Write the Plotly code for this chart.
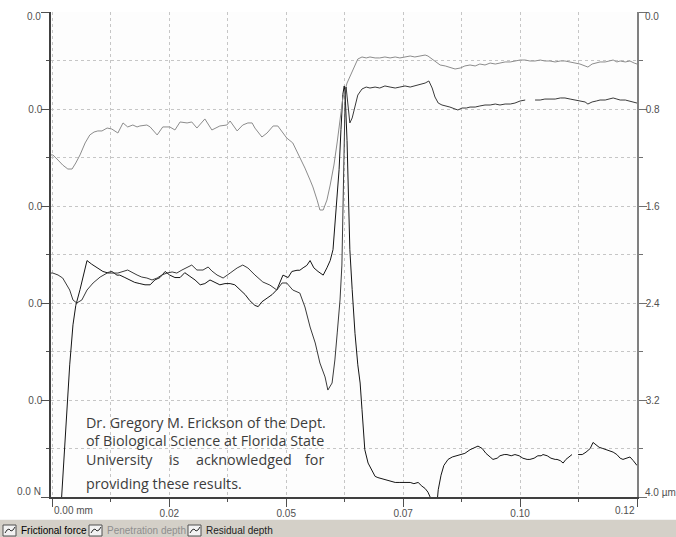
import plotly.graph_objects as go

# ---------------- data ----------------
# Frictional force (N) vs distance (mm)
fric_x = [0.0018, 0.0022, 0.0027, 0.0033, 0.0037, 0.0044, 0.0050, 0.0059, 0.0067, 0.0074,
          0.0084, 0.0095, 0.0108, 0.0117, 0.0127, 0.0138, 0.0144, 0.0155, 0.0166, 0.0176,
          0.0187, 0.0198, 0.0209, 0.0219, 0.0230, 0.0241, 0.0251, 0.0262, 0.0273, 0.0283,
          0.0294, 0.0305, 0.0316, 0.0326, 0.0337, 0.0348, 0.0358, 0.0369, 0.0380, 0.0390,
          0.0401, 0.0412, 0.0422, 0.0433, 0.0440, 0.0448, 0.0459, 0.0470, 0.0480, 0.0493,
          0.0504, 0.0512, 0.0523, 0.0529, 0.0536, 0.0544, 0.0551, 0.0559, 0.0568, 0.0579,
          0.0587, 0.0594, 0.0600, 0.0606, 0.0613, 0.0617, 0.0621, 0.0624, 0.0626, 0.0630,
          0.0634, 0.0636, 0.0641, 0.0647, 0.0653, 0.0658, 0.0662, 0.0668, 0.0675, 0.0683,
          0.0690, 0.0696, 0.0705, 0.0713, 0.0722, 0.0733, 0.0743, 0.0754, 0.0765, 0.0773,
          0.0782, 0.0790, 0.0797, 0.0803, 0.0810, 0.0814, 0.0820, 0.0825, 0.0831, 0.0837,
          0.0846, 0.0855, 0.0863, 0.0872, 0.0882, 0.0893, 0.0904, 0.0910, 0.0919, 0.0927,
          0.0936, 0.0942, 0.0951, 0.0957, 0.0966, 0.0972, 0.0981, 0.0989, 0.0998, 0.1006,
          0.1015, 0.1021, 0.1030, 0.1038, 0.1045, 0.1049, 0.1058, 0.1066, 0.1075, 0.1079,
          0.1086, 0.1092, 0.1098, 0.1105, 0.1111, None, 0.1124, 0.1133, 0.1141, 0.1150,
          0.1156, 0.1163, 0.1169, 0.1177, 0.1186, 0.1192, 0.1199, 0.1207, 0.1214, 0.1220,
          0.1229, 0.1235, 0.1242, 0.1250]
fric_n = [-0.0011, 0.0014, 0.0041, 0.0080, 0.0109, 0.0142, 0.0158, 0.0171, 0.0185, 0.0195,
          0.0192, 0.0189, 0.0186, 0.0185, 0.0186, 0.0183, 0.0183, 0.0181, 0.0179, 0.0177,
          0.0176, 0.0175, 0.0175, 0.0179, 0.0181, 0.0186, 0.0183, 0.0181, 0.0181, 0.0185,
          0.0182, 0.0179, 0.0175, 0.0176, 0.0179, 0.0177, 0.0175, 0.0176, 0.0176, 0.0175,
          0.0171, 0.0167, 0.0162, 0.0158, 0.0157, 0.0161, 0.0164, 0.0167, 0.0171, 0.0183,
          0.0181, 0.0186, 0.0187, 0.0187, 0.0189, 0.0191, 0.0195, 0.0189, 0.0186, 0.0183,
          0.0189, 0.0195, 0.0204, 0.0233, 0.0270, 0.0303, 0.0332, 0.0339, 0.0332, 0.0294,
          0.0245, 0.0204, 0.0171, 0.0135, 0.0109, 0.0094, 0.0072, 0.0039, 0.0028, 0.0022,
          0.0017, 0.0016, 0.0015, 0.0014, 0.0013, 0.0012, 0.0012, 0.0012, 0.0012, 0.0011,
          0.0012, 0.0009, 0.0007, 0.0004, -0.0002, -0.0015, -0.0015, 0.0006, 0.0018, 0.0026,
          0.0031, 0.0033, 0.0034, 0.0035, 0.0036, 0.0039, 0.0041, 0.0042, 0.0040, 0.0036,
          0.0033, 0.0031, 0.0032, 0.0034, 0.0035, 0.0035, 0.0034, 0.0035, 0.0034, 0.0032,
          0.0031, 0.0031, 0.0032, 0.0034, 0.0034, 0.0035, 0.0034, 0.0032, 0.0031, 0.0031,
          0.0030, 0.0028, 0.0031, 0.0033, 0.0035, None, 0.0035, 0.0035, 0.0037, 0.0040,
          0.0045, 0.0043, 0.0041, 0.0040, 0.0039, 0.0038, 0.0037, 0.0035, 0.0032, 0.0031,
          0.0032, 0.0033, 0.0030, 0.0026]

# Penetration depth (um) vs distance (mm)
pen_x = [-0.0003, 0.0001, 0.0012, 0.0022, 0.0033, 0.0042, 0.0050, 0.0059, 0.0070, 0.0080,
         0.0089, 0.0097, 0.0106, 0.0117, 0.0127, 0.0140, 0.0151, 0.0161, 0.0172, 0.0181,
         0.0187, 0.0202, 0.0209, 0.0224, 0.0236, 0.0251, 0.0262, 0.0273, 0.0288, 0.0298,
         0.0309, 0.0326, 0.0341, 0.0358, 0.0373, 0.0380, 0.0395, 0.0407, 0.0418, 0.0427,
         0.0433, 0.0448, 0.0459, 0.0472, 0.0482, 0.0501, 0.0514, 0.0529, 0.0540, 0.0551,
         0.0557, 0.0566, 0.0572, 0.0579, 0.0587, 0.0594, 0.0602, 0.0609, 0.0615, 0.0621,
         0.0630, 0.0636, 0.0645, 0.0653, 0.0662, 0.0671, 0.0679, 0.0690, 0.0700, 0.0711,
         0.0722, 0.0733, 0.0743, 0.0754, 0.0765, 0.0775, 0.0786, 0.0797, 0.0803, 0.0812,
         0.0820, 0.0829, 0.0840, 0.0850, 0.0861, 0.0872, 0.0882, 0.0893, 0.0904, 0.0914,
         0.0925, 0.0936, 0.0947, 0.0957, 0.0968, 0.0979, 0.0989, 0.1000, 0.1011, 0.1021,
         0.1032, 0.1043, 0.1053, 0.1064, 0.1075, 0.1086, 0.1096, 0.1107, 0.1118, 0.1128,
         0.1139, 0.1145, 0.1154, 0.1163, 0.1171, 0.1182, 0.1192, 0.1199, 0.1207, 0.1214,
         0.1225, 0.1235, 0.1244, 0.1250]
pen_um = [1.179, 1.179, 1.221, 1.262, 1.295, 1.295, 1.245, 1.179, 1.080, 1.014,
          0.990, 0.981, 0.981, 0.957, 0.965, 0.998, 0.915, 0.948, 0.932, 0.948,
          0.940, 0.932, 0.948, 1.014, 0.948, 0.948, 0.973, 0.907, 0.915, 0.907,
          0.957, 0.882, 0.973, 0.940, 0.932, 0.899, 0.981, 0.932, 0.915, 0.915,
          0.957, 1.031, 0.998, 0.940, 0.940, 1.039, 1.080, 1.196, 1.287, 1.386,
          1.443, 1.551, 1.633, 1.633, 1.551, 1.427, 1.262, 1.072, 0.891, 0.709,
          0.586, 0.536, 0.462, 0.388, 0.371, 0.379, 0.371, 0.379, 0.379, 0.371,
          0.379, 0.371, 0.379, 0.371, 0.363, 0.371, 0.363, 0.355, 0.363, 0.388,
          0.412, 0.437, 0.445, 0.454, 0.470, 0.462, 0.445, 0.437, 0.445, 0.429,
          0.437, 0.421, 0.429, 0.421, 0.412, 0.412, 0.404, 0.396, 0.396, 0.404,
          0.404, 0.396, 0.404, 0.404, 0.412, 0.404, 0.404, 0.412, 0.421, 0.429,
          0.445, 0.454, 0.429, 0.421, 0.412, 0.412, 0.404, 0.396, 0.412, 0.404,
          0.412, 0.404, 0.421, 0.429]

# Residual depth (um) vs distance (mm)
res_x = [-0.0003, 0.0001, 0.0012, 0.0022, 0.0037, 0.0044, 0.0052, 0.0063, 0.0074, 0.0087,
         0.0102, 0.0117, 0.0123, 0.0140, 0.0161, 0.0172, 0.0181, 0.0191, 0.0202, 0.0213,
         0.0224, 0.0234, 0.0245, 0.0256, 0.0266, 0.0277, 0.0288, 0.0298, 0.0309, 0.0322,
         0.0333, 0.0341, 0.0352, 0.0365, 0.0380, 0.0395, 0.0407, 0.0418, 0.0433, 0.0450,
         0.0465, 0.0480, 0.0491, 0.0501, 0.0514, 0.0529, 0.0540, 0.0551, 0.0562, 0.0572,
         0.0583, 0.0589, 0.0598, 0.0604, 0.0609, 0.0615, 0.0619, 0.0621, 0.0624, 0.0626,
         0.0628, 0.0632, 0.0636, 0.0641, 0.0647, 0.0653, 0.0662, 0.0671, 0.0679, 0.0690,
         0.0700, 0.0711, 0.0722, 0.0733, 0.0743, 0.0754, 0.0765, 0.0775, 0.0786, 0.0797,
         0.0805, 0.0812, 0.0818, 0.0825, 0.0833, 0.0842, 0.0850, 0.0861, 0.0867, 0.0876,
         0.0885, 0.0893, 0.0904, 0.0914, 0.0925, 0.0936, 0.0947, 0.0957, 0.0968, 0.0979,
         0.0989, 0.1000, 0.1011, None, 0.1032, 0.1043, 0.1053, 0.1064, 0.1075, 0.1086,
         0.1096, 0.1107, 0.1118, 0.1128, 0.1139, 0.1145, 0.1154, 0.1163, 0.1171, 0.1182,
         0.1192, 0.1199, 0.1207, 0.1214, 0.1225, 0.1235, 0.1244, 0.1250]
res_um = [2.153, 2.153, 2.169, 2.194, 2.293, 2.375, 2.400, 2.375, 2.293, 2.235,
          2.186, 2.153, 2.153, 2.153, 2.128, 2.153, 2.169, 2.186, 2.194, 2.210,
          2.194, 2.169, 2.153, 2.144, 2.153, 2.128, 2.103, 2.087, 2.128, 2.128,
          2.103, 2.136, 2.169, 2.194, 2.153, 2.111, 2.087, 2.111, 2.169, 2.227,
          2.252, 2.293, 2.235, 2.235, 2.293, 2.318, 2.433, 2.598, 2.730, 2.895,
          3.010, 3.118, 3.060, 2.870, 2.647, 2.375, 2.087, 1.715, 1.138, 0.685,
          0.619, 0.767, 0.915, 0.874, 0.767, 0.685, 0.635, 0.619, 0.627, 0.619,
          0.627, 0.610, 0.619, 0.627, 0.619, 0.610, 0.619, 0.610, 0.602, 0.586,
          0.569, 0.627, 0.701, 0.751, 0.767, 0.775, 0.784, 0.800, 0.808, 0.792,
          0.792, 0.784, 0.784, 0.775, 0.767, 0.767, 0.759, 0.767, 0.759, 0.759,
          0.751, 0.734, 0.726, None, 0.726, 0.726, 0.718, 0.718, 0.718, 0.709,
          0.709, 0.718, 0.726, 0.734, 0.742, 0.759, 0.742, 0.734, 0.726, 0.726,
          0.718, 0.709, 0.718, 0.726, 0.726, 0.734, 0.742, 0.751]

# axis ticks
x_major = [0.0, 0.025, 0.05, 0.075, 0.1, 0.125]
x_major_text = ["", "0.02", "0.05", "0.07", "0.10", ""]
x_minor = [0.0125, 0.0375, 0.0625, 0.0875, 0.1125]
f_major = [0.0, 0.008, 0.016, 0.024, 0.032, 0.040]
f_major_text = ["", "0.0", "0.0", "0.0", "0.0", ""]
f_minor = [0.004, 0.012, 0.020, 0.028, 0.036]
d_major = [0.0, 0.8, 1.6, 2.4, 3.2, 4.0]
d_major_text = ["", "0.8", "1.6", "2.4", "3.2", ""]
d_minor = [0.4, 1.2, 2.0, 2.8, 3.6]

ack_lines = ["Dr. Gregory M. Erickson of the Dept.",
             "of Biological Science at Florida State"]
ack_line3_words = ["University", "is", "acknowledged", "for"]
ack_line4 = "providing these results."
legend_names = ["Frictional force", "Penetration depth", "Residual depth"]

# ---------------- layout geometry (pixels) ----------------
W, H = 676, 537
L, R, T, B = 51, 637, 12, 497


def PX(px):
    return (px - L) / (R - L)


def PY(py):
    return (B - py) / (B - T)


GRID = "#c6c6c6"
TICKC = "#505050"
TFONT = dict(family="Liberation Sans, Arial, sans-serif", size=10, color="#505050")

fig = go.Figure()
fig.add_trace(go.Scatter(x=fric_x, y=fric_n, mode="lines", name=legend_names[0],
                         line=dict(color="#151515", width=1), yaxis="y", connectgaps=False))
fig.add_trace(go.Scatter(x=pen_x, y=pen_um, mode="lines", name=legend_names[1],
                         line=dict(color="#8c8c8c", width=1), yaxis="y2", connectgaps=False))
fig.add_trace(go.Scatter(x=res_x, y=res_um, mode="lines", name=legend_names[2],
                         line=dict(color="#3a3a3a", width=1), yaxis="y2", connectgaps=False))

fig.update_layout(
    width=W, height=H, autosize=False,
    margin=dict(l=L, r=W - R, t=T, b=H - B, pad=0),
    paper_bgcolor="#ffffff", plot_bgcolor="#fdfdfd",
    showlegend=False,
    xaxis=dict(range=[-0.0003, 0.125], tickmode="array", tickvals=x_major, ticktext=x_major_text,
               ticks="outside", ticklen=8, tickwidth=1, tickcolor=TICKC, ticklabelstandoff=-2,
               showline=True, linecolor="#404040", linewidth=1.5, zeroline=False,
               showgrid=True, gridcolor=GRID, griddash="3px,3px", gridwidth=1,
               tickfont=TFONT,
               minor=dict(tickmode="array", tickvals=x_minor, ticks="outside", ticklen=3,
                          tickcolor=TICKC, showgrid=True, gridcolor=GRID, griddash="3px,3px")),
    yaxis=dict(range=[0, 0.040], tickmode="array", tickvals=f_major, ticktext=f_major_text,
               ticks="outside", ticklen=8, tickwidth=1, tickcolor=TICKC, ticklabelstandoff=-3,
               showline=True, linecolor="#404040", linewidth=1.5, zeroline=False,
               showgrid=True, gridcolor=GRID, griddash="3px,3px", gridwidth=1,
               tickfont=TFONT,
               minor=dict(tickmode="array", tickvals=f_minor, ticks="outside", ticklen=3,
                          tickcolor=TICKC, showgrid=True, gridcolor=GRID, griddash="3px,3px")),
    yaxis2=dict(range=[4.0, 0.0], overlaying="y", side="right", anchor="x",
                tickmode="array", tickvals=d_major, ticktext=d_major_text,
                ticks="outside", ticklen=8, tickwidth=1, tickcolor="#707070",
                ticklabelstandoff=-3,
                showline=True, linecolor="#808080", linewidth=1.5, zeroline=False,
                showgrid=False, tickfont=TFONT,
                minor=dict(tickmode="array", tickvals=d_minor, ticks="outside", ticklen=4,
                           tickcolor="#707070", showgrid=False)),
)

ann = []
# endpoint tick labels
ann.append(dict(xref="x", yref="paper", x=0.0, y=PY(511), text="0.00 mm", xanchor="left",
                yanchor="middle", showarrow=False, font=TFONT))
ann.append(dict(xref="x", yref="paper", x=0.125, y=PY(511), text="0.12", xanchor="right",
                yanchor="middle", showarrow=False, font=TFONT))
ann.append(dict(xref="paper", yref="paper", x=PX(43), y=PY(17), text="0.0", xanchor="right",
                yanchor="middle", showarrow=False, font=TFONT))
ann.append(dict(xref="paper", yref="paper", x=PX(43), y=PY(491), text="0.0 N", xanchor="right",
                yanchor="middle", showarrow=False, font=TFONT))
ann.append(dict(xref="paper", yref="paper", x=PX(643), y=PY(17), text="0.0", xanchor="left",
                yanchor="middle", showarrow=False, font=TFONT))
ann.append(dict(xref="paper", yref="paper", x=PX(643), y=PY(492), text="4.0 µm", xanchor="left",
                yanchor="middle", showarrow=False, font=TFONT))

# acknowledgement text
AFONT = dict(family="Open Sans, Noto Sans, sans-serif", size=14.3, color="#3c3c3c")
for txt, cy in zip(ack_lines, [422, 440]):
    ann.append(dict(xref="paper", yref="paper", x=PX(84), y=PY(cy), text=txt, xanchor="left",
                    yanchor="middle", showarrow=False, font=AFONT))
for w, wx, anc in zip(ack_line3_words, [84, 167, 194, 326], ["left", "left", "left", "right"]):
    ann.append(dict(xref="paper", yref="paper", x=PX(wx), y=PY(459), text=w, xanchor=anc,
                    yanchor="middle", showarrow=False, font=AFONT))
ann.append(dict(xref="paper", yref="paper", x=PX(84), y=PY(483), text=ack_line4, xanchor="left",
                yanchor="middle", showarrow=False, font=AFONT))

# legend bar
shapes = []
shapes.append(dict(type="rect", xref="paper", yref="paper", x0=PX(0), x1=PX(W), y0=PY(520),
                   y1=PY(H + 2), fillcolor="#d4d0c8", line=dict(width=0), layer="above"))
shapes.append(dict(type="line", xref="paper", yref="paper", x0=PX(0), x1=PX(W), y0=PY(519.5),
                   y1=PY(519.5), line=dict(color="#f4f4f4", width=1)))
leg_colors = ["#000000", "#8e8e8e", "#222222"]
icon_x = [3, 89, 188]
text_x = [19, 105, 204]
for name, col, ix, tx in zip(legend_names, leg_colors, icon_x, text_x):
    shapes.append(dict(type="rect", xref="paper", yref="paper", x0=PX(ix), x1=PX(ix + 13),
                       y0=PY(525), y1=PY(536), fillcolor="#f2f2f2",
                       line=dict(color="#505050", width=1)))
    path = (f"M {PX(ix + 2)},{PY(533)} L {PX(ix + 4)},{PY(530)} L {PX(ix + 6)},{PY(529)} "
            f"L {PX(ix + 8)},{PY(531)} L {PX(ix + 10)},{PY(530)} L {PX(ix + 12)},{PY(527)}")
    shapes.append(dict(type="path", xref="paper", yref="paper", path=path,
                       line=dict(color="#303030", width=1)))
    ann.append(dict(xref="paper", yref="paper", x=PX(tx), y=PY(530.5), text=name, xanchor="left",
                    yanchor="middle", showarrow=False,
                    font=dict(family="Liberation Sans, Arial, sans-serif", size=10, color=col)))

fig.update_layout(annotations=ann, shapes=shapes)
fig.write_html("out.html", config={"displayModeBar": False},
               post_script="document.body.style.margin='0px';document.body.style.overflow='hidden';")
